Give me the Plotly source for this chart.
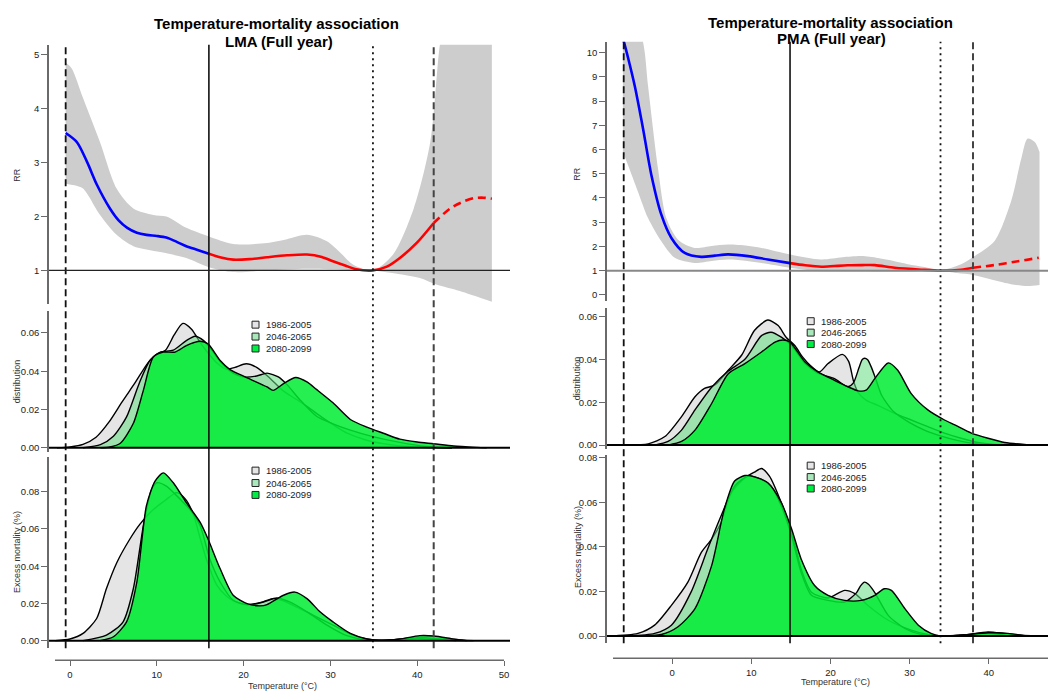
import plotly.graph_objects as go

W, H = 1048, 693

# ---------------- LMA: temperature-mortality curve (RR) ----------------
lma_t = [-0.5, 0.8, 2.0, 3.1, 4.6, 5.6, 6.6, 7.7, 8.8, 10.0, 11.1, 12.3, 13.4, 14.7, 16.0,
         17.4, 18.8, 20.7, 22.7, 25.0, 27.3, 29.0, 30.3, 31.7, 33.0, 34.9, 36.5, 38.0, 40.0,
         41.9, 43.8, 45.5, 46.5, 47.6, 48.6]
lma_rr = [3.55, 3.38, 3.0, 2.59, 2.15, 1.93, 1.79, 1.70, 1.66, 1.64, 1.61, 1.53, 1.45, 1.38, 1.31,
          1.24, 1.20, 1.21, 1.245, 1.28, 1.295, 1.25, 1.17, 1.09, 1.02, 1.0, 1.07, 1.23, 1.52,
          1.88, 2.15, 2.29, 2.34, 2.35, 2.33]
lma_hi_t = [-0.5, 0.2, 1.5, 3.46, 5.37, 7.3, 9.6, 11.1, 13.4, 16.0, 18.8, 22.7, 25.0, 27.3, 29.6,
            31.2, 32.6, 34.9, 37.2, 39.6, 41.5, 42.6, 44.0, 46.0, 48.6]
lma_hi = [4.86, 4.75, 4.2, 3.38, 2.52, 2.15, 2.03, 2.0, 1.79, 1.63, 1.49, 1.51, 1.58, 1.66, 1.54,
          1.32, 1.11, 1.0, 1.29, 2.15, 3.38, 5.18, 6.5, 7.5, 8.0]
lma_lo_t = [-0.5, 0.5, 1.5, 3.46, 5.37, 7.3, 10.4, 13.4, 16.0, 18.8, 22.7, 27.3, 32.3, 34.9, 38.0,
            40.3, 42.2, 44.9, 48.6]
lma_lo = [2.61, 2.58, 2.52, 2.03, 1.66, 1.45, 1.34, 1.23, 1.06, 0.97, 1.0, 1.03, 1.01, 1.0, 0.93,
          0.86, 0.74, 0.62, 0.42]
# reference temperatures: 1st pct, split temperature, MMT, 99th pct
lma_cuts = [-0.5, 16.0, 34.9, 41.9]

# ---------------- PMA: temperature-mortality curve (RR) ----------------
pma_t = [-6.2, -5.56, -4.71, -3.66, -2.61, -1.35, -0.08, 1.6, 3.7, 5.4, 7.07, 9.6, 12.1, 14.9,
         16.8, 18.85, 20.5, 22.2, 24.0, 25.6, 28.1, 31.5, 33.9, 36.5, 38.0, 40.7, 43.7, 46.3]
pma_rr = [10.6, 9.80, 8.63, 6.86, 4.95, 3.31, 2.35, 1.73, 1.57, 1.62, 1.67, 1.60, 1.46, 1.31,
          1.22, 1.16, 1.19, 1.22, 1.23, 1.23, 1.12, 1.04, 1.0, 1.04, 1.12, 1.23, 1.39, 1.53]
pma_hi_t = [-6.2, -3.66, -3.03, -1.77, -0.72, 0.76, 2.86, 5.0, 7.07, 9.5, 11.3, 14.9, 18.85, 21.5,
            23.9, 26.0, 28.1, 30.5, 32.3, 33.9, 36.5, 38.0, 40.7, 42.8, 44.1, 44.9, 45.8, 46.4]
pma_hi = [13.0, 10.44, 8.63, 5.22, 3.17, 2.28, 1.94, 2.02, 2.08, 2.03, 1.94, 1.67, 1.46, 1.55,
          1.60, 1.52, 1.39, 1.22, 1.12, 1.01, 1.26, 1.56, 2.21, 3.85, 5.63, 6.45, 6.31, 5.90]
pma_lo_t = [-6.2, -5.56, -4.3, -3.03, -1.35, 0.34, 2.86, 5.0, 7.07, 9.5, 11.3, 14.9, 18.85, 23.9,
            28.1, 31.5, 33.9, 36.0, 38.0, 40.7, 42.8, 44.9, 46.4]
pma_lo = [5.9, 5.36, 4.26, 3.17, 2.21, 1.53, 1.32, 1.40, 1.46, 1.40, 1.32, 1.12, 0.98, 0.98,
          0.96, 0.98, 1.0, 0.90, 0.82, 0.60, 0.44, 0.37, 0.41]
pma_cuts = [-6.1, 14.9, 33.9, 38.0]

periods = ["1986-2005", "2046-2065", "2080-2099"]

# ---------------- LMA: temperature distribution ----------------
lma_dist_t = [
    [-1.5, 0, 1.5, 3.0, 4.5, 6.0, 7.5, 9.0, 10.0, 11.0, 12.0, 13.0, 14.0, 15.0, 16.0, 17.0, 18.0,
     19.0, 20.3, 21.5, 23.0, 24.5, 26.0, 27.5, 29.0, 30.5, 32.0, 34.0, 36.0, 38.0, 40.0, 42.0, 44.0],
    [1.5, 3.5, 5.0, 6.5, 8.0, 9.2, 10.4, 11.9, 13.4, 14.4, 15.4, 16.5, 17.5, 18.8, 20.0, 21.5, 22.7,
     24.0, 25.0, 26.5, 28.4, 30.3, 32.3, 34.9, 38.0, 41.0, 44.0],
    [3.5, 4.6, 5.8, 7.3, 8.45, 9.6, 10.75, 12.1, 13.4, 14.3, 15.0, 15.9, 17.3, 18.4, 20.35, 22.7,
     23.4, 24.6, 26.0, 27.3, 28.4, 30.3, 32.3, 34.2, 36.1, 38.0, 40.0, 41.9, 44.2, 46.9, 48.0],
]
lma_dist = [
    [0.0, 0.0005, 0.0018, 0.0055, 0.0135, 0.024, 0.034, 0.0445, 0.049, 0.051, 0.059, 0.065, 0.062,
     0.055, 0.049, 0.044, 0.041, 0.042, 0.0439, 0.042, 0.0365, 0.030, 0.0255, 0.021, 0.016, 0.0115,
     0.0075, 0.0042, 0.0022, 0.001, 0.0004, 0.0001, 0.0],
    [0.0, 0.0016, 0.006, 0.016, 0.034, 0.0456, 0.050, 0.051, 0.056, 0.0583, 0.056, 0.050, 0.044,
     0.039, 0.037, 0.0375, 0.039, 0.037, 0.033, 0.025, 0.0165, 0.0125, 0.0092, 0.0058, 0.0028,
     0.0007, 0.0],
    [0.0, 0.0004, 0.0024, 0.0128, 0.030, 0.0474, 0.050, 0.050, 0.0534, 0.0550, 0.0557, 0.0543,
     0.0456, 0.041, 0.0367, 0.0318, 0.030, 0.0335, 0.0367, 0.0344, 0.0305, 0.0235, 0.0148, 0.0108,
     0.0076, 0.0045, 0.003, 0.0021, 0.0009, 0.0002, 0.0],
]

# ---------------- LMA: excess mortality ----------------
lma_em_t = [
    [-1.7, 0, 1.5, 3.07, 4.2, 5.4, 6.9, 8.06, 9.5, 11.0, 12.3, 13.3, 14.2, 15.0, 15.7, 16.9, 18.0,
     18.8, 20.0, 21.1, 22.3, 23.4, 24.5, 25.7, 28.0, 30.3, 32.6, 34.2, 36.1, 38.0, 39.9, 41.9, 43.8,
     46.5],
    [1.5, 4.2, 6.1, 7.3, 8.45, 9.4, 10.0, 11.1, 12.7, 13.8, 15.0, 16.1, 17.3, 18.8, 20.4, 22.3,
     23.8, 25.3, 27.3, 29.6, 31.9, 34.2, 36.5, 38.5, 40.0, 42.0, 44.5],
    [3.46, 5.0, 6.5, 7.7, 8.8, 9.8, 10.75, 11.9, 13.4, 15.0, 15.9, 17.3, 18.8, 20.4, 21.9, 22.7,
     24.6, 25.9, 27.3, 28.8, 30.3, 32.3, 34.2, 35.3, 36.5, 38.0, 40.3, 41.9, 44.2, 45.7],
]
lma_em = [
    [0.0, 0.0009, 0.0039, 0.0119, 0.028, 0.042, 0.0546, 0.0626, 0.070, 0.0755, 0.0795, 0.076,
     0.068, 0.055, 0.044, 0.030, 0.024, 0.0215, 0.0195, 0.0192, 0.021, 0.0226, 0.0215, 0.019,
     0.0137, 0.0084, 0.003, 0.0009, 0.0002, 0.0008, 0.0018, 0.0012, 0.0004, 0.0],
    [0.0, 0.003, 0.010, 0.028, 0.0617, 0.0812, 0.0848, 0.083, 0.0759, 0.0706, 0.0617, 0.044,
     0.0315, 0.0217, 0.0194, 0.0208, 0.0229, 0.0208, 0.0155, 0.0084, 0.0027, 0.0004, 0.0002,
     0.0008, 0.0012, 0.0006, 0.0],
    [0.0, 0.0021, 0.010, 0.0315, 0.0724, 0.0857, 0.0901, 0.0848, 0.0741, 0.0635, 0.0546, 0.0386,
     0.0244, 0.0199, 0.0187, 0.0194, 0.0244, 0.0261, 0.0226, 0.0155, 0.0101, 0.0039, 0.0009,
     0.0002, 0.0003, 0.0009, 0.0027, 0.0025, 0.0009, 0.0],
]

# ---------------- PMA: temperature distribution ----------------
pma_dist_t = [
    [-5.56, -3.0, -0.9, 1.2, 2.9, 4.1, 5.4, 7.1, 8.8, 10.4, 12.1, 13.4, 14.4, 15.5, 16.5, 17.5,
     18.6, 19.7, 21.5, 22.3, 22.9, 23.5, 24.5, 26.0, 28.1, 30.2, 32.3, 34.4, 36.5, 38.6, 40.7, 43.0],
    [-2.2, -0.5, 1.2, 2.9, 5.0, 7.1, 9.2, 11.3, 12.5, 13.8, 15.1, 16.8, 18.4, 20.5, 22.2, 22.9,
     23.6, 24.0, 24.3, 24.7, 25.2, 25.8, 26.5, 28.0, 30.0, 32.0, 34.0, 36.0, 38.0, 40.0, 42.0],
    [-0.5, 1.2, 2.9, 5.0, 7.1, 9.2, 11.3, 13.0, 14.0, 14.9, 16.8, 18.4, 20.5, 22.2, 23.5, 24.5,
     25.6, 27.3, 28.5, 30.2, 32.3, 34.4, 35.7, 37.8, 39.9, 42.0, 44.5, 46.2],
]
pma_dist = [
    [0.0, 0.0006, 0.004, 0.0133, 0.0225, 0.0264, 0.028, 0.0349, 0.042, 0.0534, 0.0583, 0.0557,
     0.0503, 0.0464, 0.041, 0.037, 0.0341, 0.038, 0.0423, 0.039, 0.030, 0.0245, 0.021, 0.0185,
     0.0148, 0.0117, 0.0086, 0.0056, 0.0032, 0.0012, 0.0003, 0.0],
    [0.0, 0.0017, 0.007, 0.0164, 0.027, 0.0345, 0.040, 0.051, 0.0526, 0.0503, 0.0464, 0.038,
     0.0336, 0.031, 0.0272, 0.029, 0.036, 0.0398, 0.0405, 0.0398, 0.036, 0.030, 0.023, 0.0155,
     0.0105, 0.0068, 0.0042, 0.0022, 0.0008, 0.0002, 0.0],
    [0.0, 0.0017, 0.007, 0.0194, 0.0333, 0.038, 0.0434, 0.048, 0.049, 0.048, 0.0387, 0.0341,
     0.0302, 0.0272, 0.0253, 0.0256, 0.031, 0.0383, 0.0349, 0.024, 0.0164, 0.0117, 0.0094, 0.0056,
     0.0032, 0.0012, 0.0003, 0.0],
]

# ---------------- PMA: excess mortality ----------------
pma_em_t = [
    [-8.1, -4.3, -2.2, -0.08, 2.0, 3.7, 5.0, 6.2, 7.5, 9.2, 10.4, 11.3, 12.3, 13.8, 15.1, 16.3,
     17.6, 19.7, 21.8, 23.1, 24.7, 27.3, 30.2, 32.3, 34.4, 37.0, 39.9, 42.0, 44.1, 46.0],
    [-5.6, -2.2, -0.08, 2.4, 4.5, 6.2, 7.9, 9.6, 11.3, 12.5, 13.8, 15.1, 16.3, 17.6, 19.7, 21.8,
     23.3, 23.8, 24.3, 24.8, 25.6, 27.3, 29.4, 31.5, 33.2, 36.0, 39.9, 43.0],
    [-4.3, -1.35, 0.76, 2.9, 5.0, 6.6, 7.9, 9.2, 10.4, 12.1, 13.8, 15.1, 16.3, 18.0, 19.7, 21.8,
     23.9, 25.6, 26.8, 27.7, 29.4, 31.1, 32.7, 34.0, 36.5, 39.9, 42.4, 45.0],
]
pma_em = [
    [0.0, 0.0012, 0.0049, 0.0138, 0.0242, 0.0375, 0.0435, 0.0509, 0.0643, 0.0709, 0.0735, 0.0751,
     0.0717, 0.0598, 0.0465, 0.0301, 0.0197, 0.0171, 0.0205, 0.019, 0.0138, 0.0071, 0.0027, 0.0007,
     0.0, 0.0006, 0.0019, 0.0012, 0.0004, 0.0],
    [0.0, 0.0012, 0.0049, 0.0197, 0.039, 0.0539, 0.0672, 0.0717, 0.0702, 0.0672, 0.0583, 0.045,
     0.0286, 0.0183, 0.016, 0.0153, 0.0195, 0.0225, 0.0242, 0.0232, 0.0195, 0.0093, 0.0034,
     0.0007, 0.0, 0.0003, 0.0012, 0.0],
    [0.0, 0.0007, 0.0042, 0.0123, 0.0316, 0.0568, 0.0695, 0.072, 0.0714, 0.0687, 0.0598, 0.048,
     0.0346, 0.0227, 0.0183, 0.016, 0.016, 0.0183, 0.0212, 0.0205, 0.0123, 0.0049, 0.0012, 0.0,
     0.0004, 0.0015, 0.0012, 0.0],
]

# ---------------- styling ----------------
FONT = "Liberation Sans, Arial, sans-serif"
CI_GREY = "rgb(205,205,205)"
FILLS = ["rgb(229,229,229)", "rgba(100,220,130,0.55)", "rgba(0,236,50,0.85)"]
KEY_FILLS = ["rgb(229,229,229)", "rgb(170,232,187)", "rgb(0,238,68)"]
AX = "#6a6a6a"


def fx(px):
    return px / W


def fy(py):
    return 1 - py / H


fig = go.Figure()


def rr_panel(t, rr, hi_t, hi, lo_t, lo, cuts, xa, ya):
    fig.add_trace(go.Scatter(x=lo_t, y=lo, mode="lines", line=dict(width=0, shape="spline", smoothing=0.8),
                             xaxis=xa, yaxis=ya, hoverinfo="skip", showlegend=False))
    fig.add_trace(go.Scatter(x=hi_t, y=hi, mode="lines", line=dict(width=0, shape="spline", smoothing=0.8),
                             fill="tonexty", fillcolor=CI_GREY, xaxis=xa, yaxis=ya,
                             hoverinfo="skip", showlegend=False))
    split, top = cuts[1], cuts[3]
    segs = [
        ([v for v in t if v <= split], "#0000ff", "solid"),
        ([v for v in t if split <= v <= top], "#ff0000", "solid"),
        ([v for v in t if v >= top], "#ff0000", "8px,5px"),
    ]
    for xs, col, dash in segs:
        ys = [rr[t.index(v)] for v in xs]
        fig.add_trace(go.Scatter(x=xs, y=ys, mode="lines",
                                 line=dict(color=col, width=2.6, dash=dash, shape="spline", smoothing=0.8),
                                 xaxis=xa, yaxis=ya, showlegend=False))


def dens_panel(ts, vs, xa, ya):
    for i in range(3):
        fig.add_trace(go.Scatter(x=ts[i], y=vs[i], mode="lines", fill="tozeroy", fillcolor=FILLS[i],
                                 line=dict(color="black", width=1.4, shape="spline", smoothing=0.7),
                                 name=periods[i], xaxis=xa, yaxis=ya, showlegend=False))


rr_panel(lma_t, lma_rr, lma_hi_t, lma_hi, lma_lo_t, lma_lo, lma_cuts, "x", "y")
dens_panel(lma_dist_t, lma_dist, "x", "y2")
dens_panel(lma_em_t, lma_em, "x", "y3")
rr_panel(pma_t, pma_rr, pma_hi_t, pma_hi, pma_lo_t, pma_lo, pma_cuts, "x2", "y4")
dens_panel(pma_dist_t, pma_dist, "x2", "y5")
dens_panel(pma_em_t, pma_em, "x2", "y6")

shapes = []
annotations = []

# vertical reference lines spanning the three stacked panels of each column
for cuts, xr, top_px, bot_px in [(lma_cuts, "x", 42, 650), (pma_cuts, "x2", 39, 645)]:
    styles = [("#111", "7px,4px", 1.8), ("#111", "solid", 1.6), ("#111", "2px,4px", 1.8), ("#444", "7px,4px", 2.0)]
    for c, (col, dash, w) in zip(cuts, styles):
        shapes.append(dict(type="line", xref=xr, yref="paper", x0=c, x1=c, y0=fy(bot_px), y1=fy(top_px),
                           line=dict(color=col, width=w, dash=dash), layer="above"))

# RR = 1 reference and zero baselines
shapes.append(dict(type="line", xref="x domain", yref="y", x0=0, x1=1, y0=1, y1=1, line=dict(color="#222", width=1.2)))
shapes.append(dict(type="line", xref="x2 domain", yref="y4", x0=0, x1=1, y0=1, y1=1, line=dict(color="#888", width=2)))
for xr, yr in [("x domain", "y2"), ("x domain", "y3"), ("x2 domain", "y5"), ("x2 domain", "y6")]:
    shapes.append(dict(type="line", xref=xr, yref=yr, x0=0, x1=1, y0=0, y1=0, line=dict(color="black", width=2)))

# bottom temperature axis lines
shapes.append(dict(type="line", xref="x", yref="paper", x0=-1.73, x1=50, y0=fy(662), y1=fy(662), line=dict(color=AX, width=1.5)))
shapes.append(dict(type="line", xref="x2", yref="paper", x0=-7.45, x1=47.5, y0=fy(660), y1=fy(660), line=dict(color=AX, width=1.5)))

# period keys
for sq_x, text_x, rows in [
    (255.5, 264, [324, 336, 348]),
    (255.5, 264, [471, 483.5, 495.5]),
    (810.7, 819, [320.5, 332, 343.5]),
    (810.7, 819, [466, 477.5, 489]),
]:
    for i, yy in enumerate(rows):
        shapes.append(dict(type="rect", xref="paper", yref="paper", x0=fx(sq_x - 3.5), x1=fx(sq_x + 3.5),
                           y0=fy(yy + 3.5), y1=fy(yy - 3.5), fillcolor=KEY_FILLS[i],
                           line=dict(color="#222", width=1), layer="above"))
        annotations.append(dict(text=periods[i], xref="paper", yref="paper", x=fx(text_x), y=fy(yy),
                                xanchor="left", yanchor="middle", showarrow=False,
                                font=dict(family=FONT, size=9.5, color="#222")))

# titles
for txt, x, y in [("Temperature-mortality association", 276, 21), ("LMA (Full year)", 279, 39),
                  ("Temperature-mortality association", 830, 20), ("PMA (Full year)", 831.5, 36)]:
    annotations.append(dict(text=f"<b>{txt}</b>", xref="paper", yref="paper", x=fx(x), y=fy(y),
                            xanchor="center", yanchor="middle", showarrow=False,
                            font=dict(family=FONT, size=15, color="black")))

# axis titles
for txt, x, y in [("RR", 17, 173), ("distribution", 17, 381), ("Excess mortality (%)", 17, 553),
                  ("RR", 577, 172), ("distribution", 577, 378), ("Excess mortality (%)", 578, 548)]:
    annotations.append(dict(text=txt, xref="paper", yref="paper", x=fx(x), y=fy(y), textangle=-90,
                            xanchor="center", yanchor="middle", showarrow=False,
                            font=dict(family=FONT, size=9, color="#333")))
for x, y in [(282, 688), (835, 684)]:
    annotations.append(dict(text="Temperature (°C)", xref="paper", yref="paper", x=fx(x), y=fy(y),
                            xanchor="center", yanchor="middle", showarrow=False,
                            font=dict(family=FONT, size=9, color="#333")))

tickfont = dict(family=FONT, size=9.5, color="#222")


def yax(domain_px, rng, ticks, fmt, anchor):
    return dict(domain=[fy(domain_px[1]), fy(domain_px[0])], range=rng, anchor=anchor,
                tickvals=ticks, tickformat=fmt, ticks="outside", ticklen=6, tickwidth=1.3, tickcolor=AX,
                showline=True, linecolor=AX, linewidth=1.5, showgrid=False, zeroline=False,
                tickfont=tickfont, fixedrange=True)


def xax(domain_px, rng, ticks, pos_px):
    return dict(domain=[fx(domain_px[0]), min(1.0, fx(domain_px[1]))], range=rng, anchor="free",
                position=fy(pos_px), tickvals=ticks, ticks="outside", ticklen=5, tickwidth=1.3,
                tickcolor=AX, showline=False, showgrid=False, zeroline=False, tickfont=tickfont,
                fixedrange=True)


fig.update_layout(
    width=W, height=H, autosize=False,
    margin=dict(l=0, r=0, t=0, b=0, pad=0),
    paper_bgcolor="white", plot_bgcolor="white",
    showlegend=False,
    xaxis=xax((49, 510), [-2.42, 50.69], [0, 10, 20, 30, 40, 50], 662),
    xaxis2=xax((607, 1048), [-8.21, 47.47], [0, 10, 20, 30, 40], 660),
    yaxis=yax((42, 303), [0.38, 5.19], [1, 2, 3, 4, 5], "d", "x"),
    yaxis2=yax((310, 452), [-0.00207, 0.0716], [0, 0.02, 0.04, 0.06], ".2f", "x"),
    yaxis3=yax((457, 650), [-0.0041, 0.0988], [0, 0.02, 0.04, 0.06, 0.08], ".2f", "x"),
    yaxis4=yax((39, 300), [-0.246, 10.45], list(range(0, 11)), "d", "x2"),
    yaxis5=yax((307, 449), [-0.0017, 0.0640], [0, 0.02, 0.04, 0.06], ".2f", "x2"),
    yaxis6=yax((455, 645), [-0.00325, 0.0813], [0, 0.02, 0.04, 0.06, 0.08], ".2f", "x2"),
    shapes=shapes,
    annotations=annotations,
)

fig.write_html("out.html")
